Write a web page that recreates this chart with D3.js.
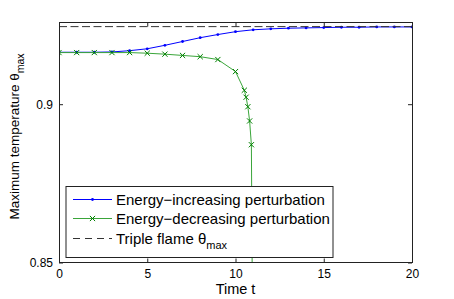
<!DOCTYPE html>
<html>
    <head>
        <title>Maximum temperature</title>
        <script src="https://d3js.org/d3.v7.min.js"></script>
        <style>
            body { margin: 0; background: white; }
            text { font-family: 'Liberation Sans', Arial, sans-serif; fill: #000; }
            .tick-label { font-size: 12px; }
            .axis-label { font-size: 14.5px; }
            .y-label { font-size: 13.5px; }
            .legend-text { font-size: 15px; }
        </style>
    </head>
    <body>
        <svg id='canvas' width=454 height=299></svg>
        <script>
            // data
            const incTimes = [0, 1, 2, 3, 4, 5, 6, 7, 8, 9, 10, 11, 12, 13, 14, 15, 16, 17, 18, 19, 20]
            const incValues = [0.9164, 0.9164, 0.9164, 0.9165, 0.9169, 0.9175, 0.9186, 0.9198, 0.9210, 0.9220,
                0.9229, 0.9235, 0.9238, 0.9240, 0.9241, 0.9242, 0.9243, 0.9243, 0.9244, 0.9244, 0.9244]
            const decTimes = [0, 1, 2, 3, 4, 5, 6, 7, 8, 9, 10, 10.5, 10.6, 10.7, 10.8, 10.9, 11]
            const decValues = [0.9163, 0.9163, 0.9163, 0.9163, 0.9163, 0.9161, 0.9158, 0.9154, 0.9150, 0.9141,
                0.9103, 0.9044, 0.9022, 0.8992, 0.8947, 0.8872, 0.80]
            const tripleFlameMax = 0.9245
            const xTicks = [0, 5, 10, 15, 20]
            const yTicks = [0.85, 0.9]
            const legendLabels = ['Energy\u2212increasing perturbation', 'Energy\u2212decreasing perturbation', 'Triple flame ']

            const blue = '#0000ff'
            const green = '#008000'
            const greenLine = '#3aa53a'

            const margin = { top: 22.5, right: 42, bottom: 36.5, left: 59 }
            const svg = d3.select('#canvas')
            const width = svg.attr('width') - margin.left - margin.right
            const height = svg.attr('height') - margin.top - margin.bottom

            const g = svg.append('g')
                .attr('transform', `translate(${margin.left}, ${margin.top})`)

            const xScale = d3.scaleLinear().domain([0, 20]).range([0, width])
            const yScale = d3.scaleLinear().domain([0.85, 0.9258]).range([height, 0])

            g.append('clipPath').attr('id', 'clip')
                .append('rect').attr('width', width).attr('height', height)

            const plot = g.append('g').attr('clip-path', 'url(#clip)')

            const line = d3.line().x(d => xScale(d[0])).y(d => yScale(d[1]))
            const incData = incTimes.map((t, i) => [t, incValues[i]])
            const decData = decTimes.map((t, i) => [t, decValues[i]])

            // energy increasing
            plot.append('path').datum(incData)
                .attr('d', line).attr('fill', 'none').attr('stroke', blue).attr('stroke-width', 1)
            plot.selectAll('.dot').data(incData).enter().append('circle')
                .attr('cx', d => xScale(d[0])).attr('cy', d => yScale(d[1]))
                .attr('r', 1.4).attr('fill', blue)

            // energy decreasing
            plot.append('path').datum(decData)
                .attr('d', line).attr('fill', 'none').attr('stroke', greenLine).attr('stroke-width', 1)
            const drawX = (sel, x, y) => {
                sel.append('path')
                    .attr('d', 'M-2.6,-2.6L2.6,2.6M-2.6,2.6L2.6,-2.6')
                    .attr('transform', `translate(${x},${y})`)
                    .attr('stroke', green).attr('stroke-width', 1).attr('fill', 'none')
            }
            decData.forEach(d => drawX(plot, xScale(d[0]), yScale(d[1])))

            // triple flame line
            plot.append('line')
                .attr('x1', 0).attr('x2', width)
                .attr('y1', yScale(tripleFlameMax)).attr('y2', yScale(tripleFlameMax))
                .attr('stroke', '#333').attr('stroke-width', 1).attr('stroke-dasharray', '8,3.5')

            // axes: box with inward ticks on all sides
            const tickLen = 4
            const xBottom = d3.axisBottom(xScale).tickValues(xTicks).tickSizeInner(-tickLen).tickSizeOuter(0).tickPadding(7)
            const xTop = d3.axisTop(xScale).tickValues(xTicks).tickSizeInner(-tickLen).tickSizeOuter(0).tickFormat('')
            const yLeft = d3.axisLeft(yScale).tickValues(yTicks).tickSizeInner(-tickLen).tickSizeOuter(0).tickPadding(6)
                .tickFormat(d3.format('~g'))
            const yRight = d3.axisRight(yScale).tickValues(yTicks).tickSizeInner(-tickLen).tickSizeOuter(0).tickFormat('')

            const styleAxis = a => {
                a.select('.domain').remove()
                a.selectAll('line').attr('stroke', '#222')
                a.selectAll('text').attr('class', 'tick-label').attr('font-family', null).attr('font-size', null)
            }
            g.append('g').attr('transform', `translate(0, ${height})`).call(xBottom).call(styleAxis)
            g.append('g').call(xTop).call(styleAxis)
            g.append('g').call(yLeft).call(styleAxis)
            g.append('g').attr('transform', `translate(${width}, 0)`).call(yRight).call(styleAxis)

            g.append('rect')
                .attr('x', 0.5).attr('y', 0).attr('width', width).attr('height', height)
                .attr('fill', 'none').attr('stroke', '#222').attr('stroke-width', 1)

            // legend
            const lx = 7, ly = 164
            const legend = g.append('g').attr('transform', `translate(${lx}, ${ly})`)
            legend.append('rect')
                .attr('x', 0).attr('y', 0).attr('width', 267).attr('height', 71)
                .attr('fill', 'white').attr('stroke', '#222').attr('stroke-width', 1)
            const rowY = [13, 32, 52]
            const sx1 = 7, sx2 = 46, tx = 50
            legend.append('line').attr('x1', sx1).attr('x2', sx2).attr('y1', rowY[0]).attr('y2', rowY[0])
                .attr('stroke', blue).attr('stroke-width', 1)
            legend.append('circle').attr('cx', (sx1 + sx2) / 2).attr('cy', rowY[0]).attr('r', 1.4).attr('fill', blue)
            legend.append('line').attr('x1', sx1).attr('x2', sx2).attr('y1', rowY[1]).attr('y2', rowY[1])
                .attr('stroke', greenLine).attr('stroke-width', 1)
            drawX(legend, (sx1 + sx2) / 2, rowY[1])
            legend.append('line').attr('x1', sx1).attr('x2', sx2).attr('y1', rowY[2]).attr('y2', rowY[2])
                .attr('stroke', '#333').attr('stroke-width', 1).attr('stroke-dasharray', '7,5')

            legendLabels.forEach((lab, i) => {
                const t = legend.append('text').attr('class', 'legend-text')
                    .attr('x', tx).attr('y', rowY[i] + 5)
                t.append('tspan').text(lab)
                if (i === 2) {
                    t.append('tspan').text('\u03b8')
                    t.append('tspan').text('max').attr('font-size', '11px').attr('dy', 5)
                }
            })

            // axis labels
            g.append('text').attr('class', 'axis-label')
                .attr('x', width / 2).attr('y', height + 31)
                .attr('text-anchor', 'middle').text('Time t')

            const yl = g.append('text').attr('class', 'y-label')
                .attr('transform', `translate(-40, ${height / 2 - 6}) rotate(-90)`)
                .attr('text-anchor', 'middle')
            yl.append('tspan').text('Maximum temperature  \u03b8')
            yl.append('tspan').text('max').attr('font-size', '10.5px').attr('dy', 5)
        </script>
    </body>
</html>
